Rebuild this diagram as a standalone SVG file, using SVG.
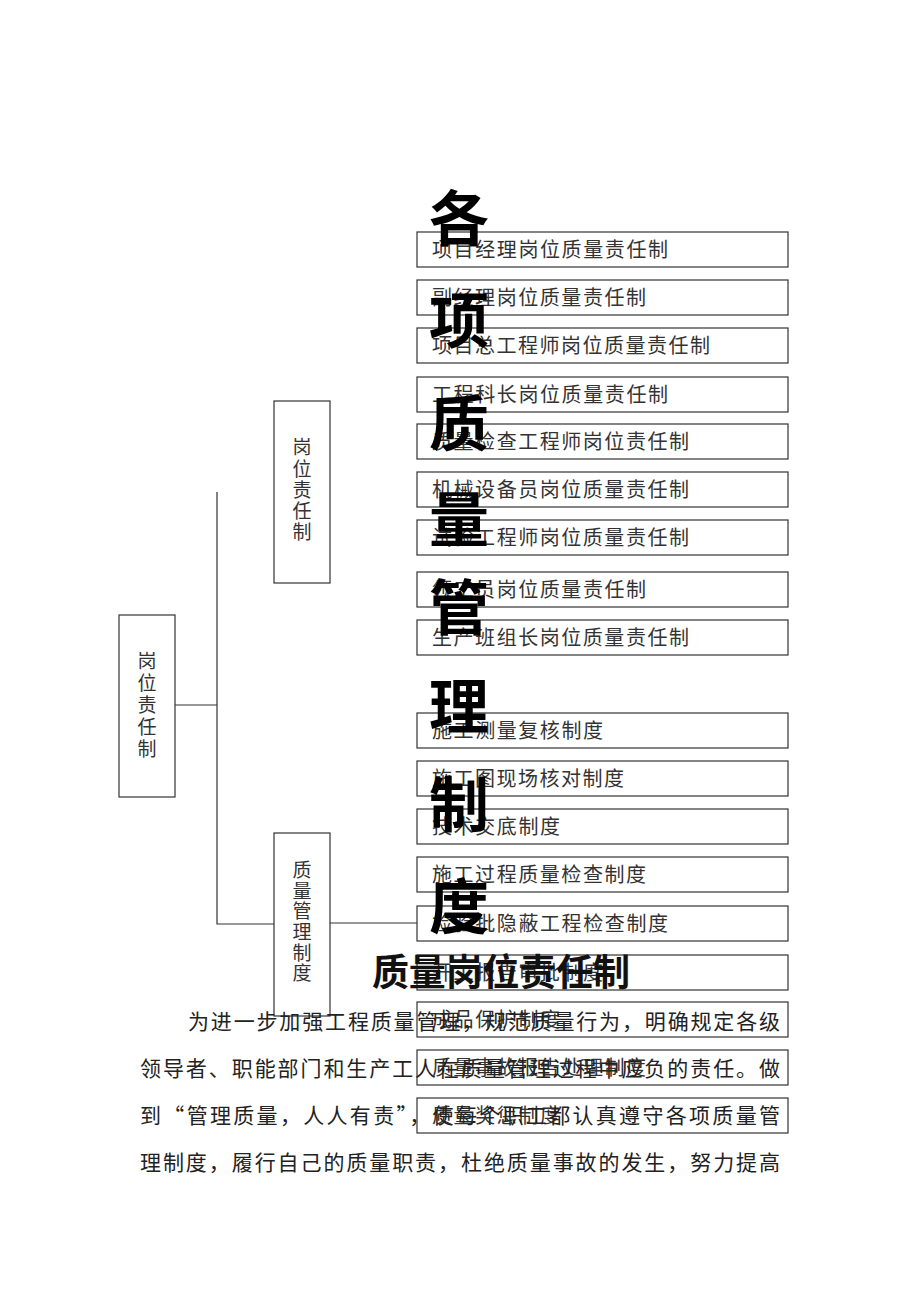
<svg xmlns="http://www.w3.org/2000/svg" width="920" height="1302" viewBox="0 0 920 1302">
<style>
.box{fill:none;stroke:#333;stroke-width:1.2}
.ln{fill:none;stroke:#333;stroke-width:1.2}
.bt{font-family:"Noto Sans CJK SC","Noto Sans",sans-serif;font-size:20px;fill:#333}
.vt{font-family:"Noto Sans CJK SC","Noto Sans",sans-serif;font-size:19px;fill:#333;text-anchor:middle}
.big{font-family:"Noto Sans CJK SC","Noto Sans",sans-serif;font-size:60px;font-weight:bold;fill:#000}
.para{font-family:"Noto Sans CJK SC","Noto Sans",sans-serif;font-size:21px;fill:#222}
.title{font-family:"Noto Sans CJK SC","Noto Sans",sans-serif;font-size:37px;font-weight:bold;fill:#111}
</style>
<rect width="920" height="1302" fill="#fff"/>
<g id="connectors">
<path class="ln" d="M175 705 H217 M217 492 V924 H274 M330 923 H417"/>
</g>
<g id="root"><rect class="box" x="119" y="615" width="56" height="182"/>
<text class="vt" x="147"><tspan x="147" y="668">岗</tspan><tspan x="147" y="690">位</tspan><tspan x="147" y="712">责</tspan><tspan x="147" y="734">任</tspan><tspan x="147" y="756">制</tspan></text></g>
<g id="gangwei"><rect class="box" x="274" y="401" width="56" height="182"/>
<text class="vt" x="302"><tspan x="302" y="454">岗</tspan><tspan x="302" y="476">位</tspan><tspan x="302" y="497">责</tspan><tspan x="302" y="518">任</tspan><tspan x="302" y="539">制</tspan></text></g>
<g id="zhiliang"><rect class="box" x="274" y="833" width="56" height="183"/>
<text class="vt" x="302"><tspan x="302" y="877">质</tspan><tspan x="302" y="898">量</tspan><tspan x="302" y="918">管</tspan><tspan x="302" y="939">理</tspan><tspan x="302" y="960">制</tspan><tspan x="302" y="980">度</tspan></text></g>
<g id="items">
<g id="i1"><rect class="box" x="417" y="232" width="371" height="35"/><text class="bt" x="432" y="257" textLength="236">项目经理岗位质量责任制</text></g>
<g id="i2"><rect class="box" x="417" y="280" width="371" height="35"/><text class="bt" x="432" y="305" textLength="214">副经理岗位质量责任制</text></g>
<g id="i3"><rect class="box" x="417" y="328" width="371" height="35"/><text class="bt" x="432" y="353" textLength="278">项目总工程师岗位质量责任制</text></g>
<g id="i4"><rect class="box" x="417" y="377" width="371" height="35"/><text class="bt" x="432" y="402" textLength="236">工程科长岗位质量责任制</text></g>
<g id="i5"><rect class="box" x="417" y="424" width="371" height="35"/><text class="bt" x="432" y="449" textLength="257">质量检查工程师岗位责任制</text></g>
<g id="i6"><rect class="box" x="417" y="472" width="371" height="35"/><text class="bt" x="432" y="497" textLength="257">机械设备员岗位质量责任制</text></g>
<g id="i7"><rect class="box" x="417" y="520" width="371" height="35"/><text class="bt" x="432" y="545" textLength="257">试验工程师岗位质量责任制</text></g>
<g id="i8"><rect class="box" x="417" y="572" width="371" height="35"/><text class="bt" x="432" y="597" textLength="214">领工员岗位质量责任制</text></g>
<g id="i9"><rect class="box" x="417" y="620" width="371" height="35"/><text class="bt" x="432" y="645" textLength="257">生产班组长岗位质量责任制</text></g>
<g id="i10"><rect class="box" x="417" y="713" width="371" height="35"/><text class="bt" x="432" y="738" textLength="171">施工测量复核制度</text></g>
<g id="i11"><rect class="box" x="417" y="761" width="371" height="35"/><text class="bt" x="432" y="786" textLength="192">施工图现场核对制度</text></g>
<g id="i12"><rect class="box" x="417" y="809" width="371" height="35"/><text class="bt" x="432" y="834" textLength="128">技术交底制度</text></g>
<g id="i13"><rect class="box" x="417" y="857" width="371" height="35"/><text class="bt" x="432" y="882" textLength="214">施工过程质量检查制度</text></g>
<g id="i14"><rect class="box" x="417" y="906" width="371" height="35"/><text class="bt" x="432" y="931" textLength="236">检验批隐蔽工程检查制度</text></g>
<g id="i15"><rect class="box" x="417" y="955" width="371" height="35"/><text class="bt" x="432" y="980" textLength="171">开工报告审批制度</text></g>
<g id="i16"><rect class="box" x="417" y="1002" width="371" height="35"/><text class="bt" x="432" y="1027" textLength="128">成品保护制度</text></g>
<g id="i17"><rect class="box" x="417" y="1050" width="371" height="35"/><text class="bt" x="432" y="1075" textLength="214">质量事故报告处理制度</text></g>
<g id="i18"><rect class="box" x="417" y="1098" width="371" height="35"/><text class="bt" x="432" y="1123" textLength="128">质量奖惩制度</text></g>
</g>
<g id="bigtitle">
<text class="big" x="429" y="241">各</text>
<text class="big" x="429" y="343">项</text>
<text class="big" x="429" y="446">质</text>
<text class="big" x="429" y="542">量</text>
<text class="big" x="429" y="630">管</text>
<text class="big" x="429" y="729">理</text>
<text class="big" x="429" y="827">制</text>
<text class="big" x="429" y="929">度</text>
</g>
<g id="doc">
<text class="title" x="372" y="986" textLength="258">质量岗位责任制</text>
<text class="para" x="188" y="1029" textLength="592">为进一步加强工程质量管理，规范质量行为，明确规定各级</text>
<text class="para" x="140" y="1076" textLength="640">领导者、职能部门和生产工人在质量管理过程中应负的责任。做</text>
<text class="para" x="140" y="1123" textLength="640">到“管理质量，人人有责”，使每个职工都认真遵守各项质量管</text>
<text class="para" x="140" y="1170" textLength="640">理制度，履行自己的质量职责，杜绝质量事故的发生，努力提高</text>
</g>
</svg>
